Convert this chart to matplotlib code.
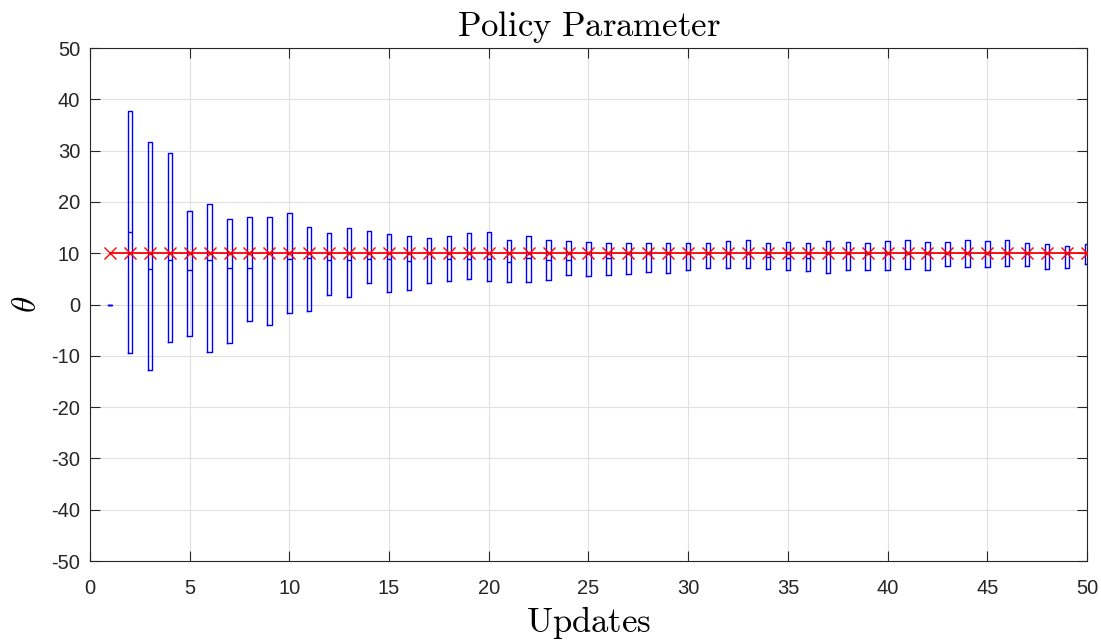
import matplotlib

matplotlib.use("Agg")
import matplotlib.pyplot as plt
import numpy as np

# boxplot stats per update
updates = list(range(1, 51))
q3 = [0.0, 37.7, 31.6, 29.5, 18.3, 19.5, 16.6, 17.0, 17.1, 17.8,
      15.1, 13.9, 14.9, 14.3, 13.7, 13.4, 13.0, 13.4, 13.9, 14.1,
      12.5, 13.4, 12.6, 12.4, 12.1, 11.9, 11.9, 12.0, 12.0, 11.9,
      11.9, 12.3, 12.5, 12.0, 12.2, 11.9, 12.3, 12.2, 12.0, 12.3,
      12.6, 12.1, 12.1, 12.5, 12.3, 12.5, 12.0, 11.8, 11.5, 11.7]
q1 = [0.0, -9.4, -12.8, -7.4, -6.1, -9.3, -7.5, -3.3, -3.9, -1.6,
      -1.2, 1.8, 1.4, 4.1, 2.4, 2.8, 4.1, 4.6, 5.0, 4.6,
      4.4, 4.3, 4.7, 5.8, 5.6, 5.7, 5.9, 6.3, 6.2, 6.8,
      7.2, 7.2, 7.1, 6.9, 6.8, 6.6, 6.2, 6.8, 6.7, 6.7,
      7.0, 6.8, 7.5, 7.4, 7.3, 7.5, 7.5, 6.9, 7.1, 7.9]
med = [0.0, 14.1, 6.9, 8.7, 6.7, 8.7, 7.1, 7.1, 10.0, 8.9,
       9.0, 8.6, 8.7, 8.9, 8.9, 8.4, 10.0, 8.9, 8.9, 8.9,
       8.2, 9.0, 8.7, 8.6, 10.0, 9.0, 10.0, 10.0, 10.0, 10.0,
       10.0, 10.0, 10.0, 9.3, 9.1, 9.0, 10.0, 10.0, 10.0, 10.0,
       10.0, 10.0, 10.0, 10.0, 10.0, 10.0, 10.0, 10.0, 10.0, 10.0]
theta_star = [10.0] * len(updates)

plt.rcParams["font.family"] = ["Liberation Sans", "DejaVu Sans"]
plt.rcParams["mathtext.fontset"] = "cm"
plt.rcParams["axes.unicode_minus"] = False

fig = plt.figure(figsize=(11.01, 6.41), dpi=100)
ax = fig.add_axes([0.0817, 0.1248, 0.9056, 0.8003])

stats = [dict(med=m, q1=a, q3=b, whislo=a, whishi=b, fliers=[])
         for m, a, b in zip(med, q1, q3)]
ax.bxp(stats, positions=updates, widths=0.22, showcaps=False,
       showfliers=False, manage_ticks=False,
       boxprops=dict(color="blue", linewidth=1.0),
       medianprops=dict(color="blue", linewidth=1.0),
       whiskerprops=dict(color="blue", linewidth=1.0))

ax.plot(updates, theta_star, "-x", color="red", linewidth=1.3,
        markersize=8, markeredgewidth=1.0, zorder=3)

ax.set_xlim(0, 50)
ax.set_ylim(-50, 50)
ax.set_xticks(np.arange(0, 51, 5))
ax.set_yticks(np.arange(-50, 51, 10))
ax.grid(True, color="#e0e0e0", linewidth=0.8)
ax.set_axisbelow(True)
ax.tick_params(direction="in", top=True, right=True, length=7,
               labelsize=14.5, colors="#262626", width=0.8)
ax.tick_params(axis="x", pad=13)
ax.tick_params(axis="y", pad=7)
for s in ax.spines.values():
    s.set_color("#262626")
    s.set_linewidth(0.8)

ax.set_title(r"$\mathrm{Policy\ Parameter}$", fontsize=25, pad=9)
ax.set_xlabel(r"$\mathrm{Updates}$", fontsize=25, labelpad=4)
ax.set_ylabel(r"$\theta$", fontsize=24, labelpad=6, rotation=90)

fig.savefig("out.png", dpi=100)
